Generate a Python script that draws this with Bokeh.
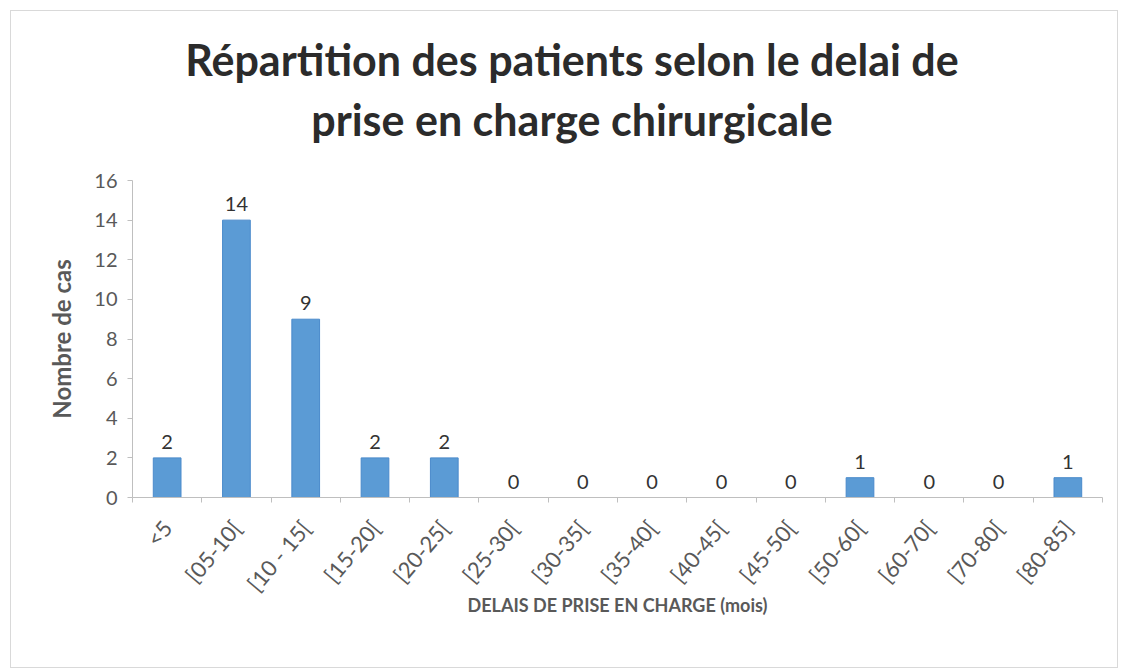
from bokeh.plotting import figure
from bokeh.models import ColumnDataSource, LabelSet, FixedTicker, Range1d, Div
from bokeh.layouts import column
from bokeh.core.properties import value
from bokeh.embed import file_html
from bokeh.resources import INLINE

categories = ["<5", "[05-10[", "[10 - 15[", "[15-20[", "[20-25[", "[25-30[", "[30-35[",
              "[35-40[", "[40-45[", "[45-50[", "[50-60[", "[60-70[", "[70-80[", "[80-85]"]
counts = [2, 14, 9, 2, 2, 0, 0, 0, 0, 0, 1, 0, 0, 1]
y_ticks = [0, 2, 4, 6, 8, 10, 12, 14, 16]
title_lines = ["Répartition des patients selon le delai de", "prise en charge chirurgicale"]

n = len(categories)
xs = [i + 0.5 for i in range(n)]
src = ColumnDataSource(dict(x=xs, y=counts, lab=[str(c) for c in counts]))

FONT = "Lato"
GREY = "#595959"

W = 1106
TITLE_H = 150
H = 656 - TITLE_H

title_html = (
    '<div style="font-family: Lato; font-weight: bold; font-size: 43px; line-height: 60px; '
    'text-align: center; color: #2b2b2b; width: 1106px; padding-top: 19px; padding-left: 16px; '
    'box-sizing: border-box; white-space: nowrap;">'
    + "<br>".join(title_lines) + "</div>"
)
title_div = Div(text=title_html, width=W, height=TITLE_H, margin=0)

p = figure(width=W, height=H, output_backend="svg", toolbar_location=None,
           x_range=Range1d(0, n), y_range=Range1d(0, 16), margin=0,
           min_border_left=121, min_border_right=15, min_border_bottom=170, min_border_top=19)

p.vbar(x="x", top="y", width=0.4, source=src, fill_color="#5B9BD5", line_color="#4A8ACB")

labels = LabelSet(x="x", y="y", text="lab", source=src, y_offset=9,
                  text_align="center", text_baseline="bottom",
                  text_font=value(FONT), text_font_size="20px", text_color="#333333")
p.add_layout(labels)

# x axis: labels at category centres, ticks at boundaries
p.xaxis.ticker = FixedTicker(ticks=xs, minor_ticks=list(range(n + 1)))
p.xaxis.major_label_overrides = {x: c for x, c in zip(xs, categories)}
p.xaxis.major_label_orientation = 0.87
p.xaxis.major_tick_line_color = None
p.xaxis.minor_tick_out = 5
p.xaxis.minor_tick_in = 0
p.xaxis.minor_tick_line_color = "#bfbfbf"
p.xaxis.axis_line_color = "#bfbfbf"
p.xaxis.major_label_text_font = FONT
p.xaxis.major_label_text_font_size = "22px"
p.xaxis.major_label_text_color = GREY
p.xaxis.major_label_standoff = 20
p.xaxis.axis_label = "DELAIS DE PRISE EN CHARGE (mois)"
p.xaxis.axis_label_text_font = FONT
p.xaxis.axis_label_text_font_style = "bold"
p.xaxis.axis_label_text_font_size = "18px"
p.xaxis.axis_label_text_color = GREY
p.xaxis.axis_label_standoff = -14

p.yaxis.ticker = FixedTicker(ticks=y_ticks)
p.yaxis.minor_tick_line_color = None
p.yaxis.major_tick_in = 0
p.yaxis.major_tick_out = 5
p.yaxis.major_tick_line_color = "#bfbfbf"
p.yaxis.axis_line_color = "#bfbfbf"
p.yaxis.major_label_text_font = FONT
p.yaxis.major_label_text_font_size = "20px"
p.yaxis.major_label_text_color = GREY
p.yaxis.major_label_standoff = 10
p.yaxis.axis_label = "Nombre de cas"
p.yaxis.axis_label_text_font = FONT
p.yaxis.axis_label_text_font_style = "bold"
p.yaxis.axis_label_text_font_size = "24px"
p.yaxis.axis_label_text_color = GREY
p.yaxis.axis_label_standoff = 15

p.xgrid.grid_line_color = None
p.ygrid.grid_line_color = None
p.outline_line_color = None

layout = column(title_div, p, spacing=0)
layout.styles = {"border": "1px solid #d9d9d9", "margin-left": "10px", "margin-top": "10px",
                 "background-color": "white"}

open("out.html", "w").write(file_html(layout, INLINE))
